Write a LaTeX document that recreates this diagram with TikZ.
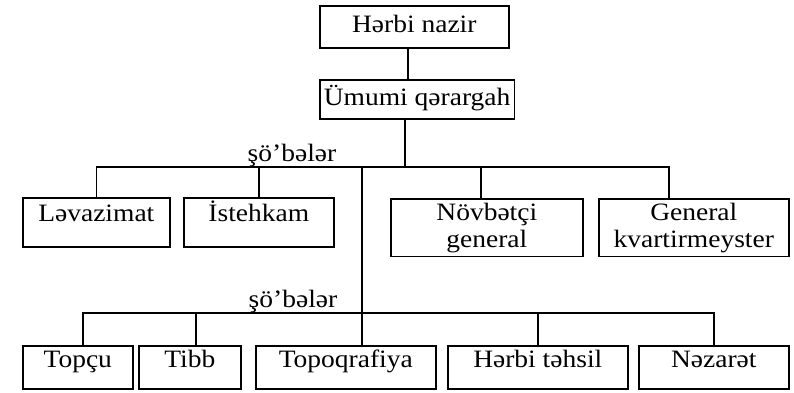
\documentclass[tikz,border=0pt]{standalone}
\usepackage{fontspec}
\setmainfont{Liberation Serif}[FakeStretch=1.1]
\usetikzlibrary{positioning}

\begin{document}
\begin{tikzpicture}[x=0.5pt, y=-0.5pt, line width=0.8pt,
    box/.style={draw, inner sep=2pt, anchor=north west, align=center,
        font=\fontsize{12.5pt}{13.5pt}\selectfont},
    topbox/.style={box, text height=9pt, text depth=3pt},
    onebox/.style={box, text height=10pt, text depth=10.5pt},
    lowbox/.style={box, text height=9pt, text depth=8.5pt},
    lab/.style={font=\fontsize{12.5pt}{13.5pt}\selectfont, inner sep=1pt}]
    \useasboundingbox (0,0) rectangle (794,392);

    % Top of the hierarchy
    \node[topbox, minimum width=94.5pt, minimum height=21pt] (nazir) at (319,5) {Hərbi nazir};
    \node[topbox, minimum width=96pt, minimum height=19.5pt] (qerargah) at (319,79) {Ümumi qərargah};

    % Bus lines of the two levels
    \coordinate (bus1) at (405,167);
    \coordinate (bus2) at (362,313);

    % First level of departments
    \node[onebox, minimum width=73.5pt] (lev) at (22,197) {Ləvazimat};
    \node[onebox, minimum width=75pt] (ist) at (183,197) {İstehkam};
    \node[box, minimum width=96pt] (nov) at (390,198) {Növbətçi\\general};
    \node[box, minimum width=95pt] (gen) at (598,198) {General\\kvartirmeyster};
    \node[lab] (lab1) at (292,155) {şö'bələr};

    % Second level of departments
    \node[lowbox, minimum width=55pt] (topcu) at (22,345) {Topçu};
    \node[lowbox, minimum width=51pt] (tibb) at (138,345) {Tibb};
    \node[lowbox, minimum width=90pt] (topo) at (255,345) {Topoqrafiya};
    \node[lowbox, minimum width=90pt] (tehsil) at (447,345) {Hərbi təhsil};
    \node[lowbox, minimum width=75pt] (nezaret) at (638,345) {Nəzarət};
    \node[lab] (lab2) at (293,301) {şö'bələr};

    % Trunk
    \draw (nazir.south -| 408,0) -- (qerargah.north -| 408,0);
    \draw (qerargah.south -| bus1) -- (bus1);

    % First level connectors
    \draw (lev.north) |- (bus1) -| ([xshift=-12.5pt]gen.north);
    \draw (ist.north) -- (ist.north |- bus1);
    \draw ([xshift=-3pt]nov.north) -- ([xshift=-3pt]nov.north |- bus1);

    % Down to the second level
    \draw (bus1 -| bus2) -- (bus2) -- (topo.north -| bus2);
    \draw ([xshift=2.5pt]topcu.north) |- (bus2) -| (nezaret.north);
    \draw ([xshift=3pt]tibb.north) -- ([xshift=3pt]tibb.north |- bus2);
    \draw (tehsil.north) -- (tehsil.north |- bus2);
\end{tikzpicture}
\end{document}
